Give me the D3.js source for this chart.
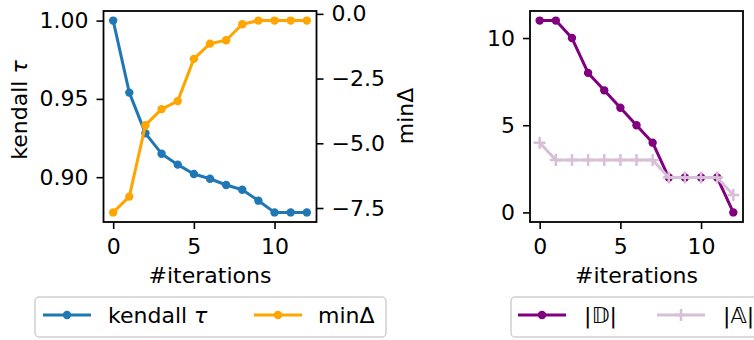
<!DOCTYPE html>
<html>
<head>
<meta charset="utf-8">
<script src="https://cdn.jsdelivr.net/npm/d3@7"></script>
<style>
  body { margin: 0; background: #fff; }
  text { font-family: "DejaVu Sans", sans-serif; fill: #000; }
</style>
</head>
<body>
<svg id="chart" width="754" height="340"></svg>
<script>
// iterations 0..12
const iterations = [0, 1, 2, 3, 4, 5, 6, 7, 8, 9, 10, 11, 12];
// left panel
const kendallTau = [1.000, 0.954, 0.928, 0.915, 0.908, 0.902, 0.899, 0.895, 0.892, 0.885, 0.8775, 0.8775, 0.8775];
const minDelta = [-7.67, -7.06, -4.30, -3.68, -3.37, -1.74, -1.15, -1.02, -0.40, -0.26, -0.26, -0.26, -0.26];
// right panel
const sizeD = [11, 11, 10, 8, 7, 6, 5, 4, 2, 2, 2, 2, 0];
const sizeA = [4, 3, 3, 3, 3, 3, 3, 3, 2, 2, 2, 2, 1];
const xTicks = [0, 5, 10];
const tauTicks = [0.90, 0.95, 1.00];
const deltaTicks = [-7.5, -5.0, -2.5, 0.0];
const countTicks = [0, 5, 10];

const FS = 22;
const svg = d3.select('#chart');

// matplotlib style 5% padding
function padded(vals) {
  const [lo, hi] = d3.extent(vals);
  const m = (hi - lo) * 0.05;
  return [lo - m, hi + m];
}

const plotTop = 11, plotBottom = 222;
const L = { left: 103.5, right: 316.5 };
const R = { left: 530, right: 743 };

const xL = d3.scaleLinear().domain(padded(iterations)).range([L.left, L.right]);
const xR = d3.scaleLinear().domain(padded(iterations)).range([R.left, R.right]);
const yTau = d3.scaleLinear().domain(padded(kendallTau)).range([plotBottom, plotTop]);
const yDelta = d3.scaleLinear().domain(padded(minDelta)).range([plotBottom, plotTop]);
const yCount = d3.scaleLinear().domain(padded(sizeD.concat(sizeA))).range([plotBottom, plotTop]);

function styleAxis(g) {
  g.select('.domain').remove();
  g.selectAll('.tick line').attr('stroke', '#000').attr('stroke-width', 1.6);
  g.selectAll('.tick text').style('font-size', FS + 'px').attr('fill', '#000');
}

const minus = s => s.replace('-', '\u2212');

// left panel axes
svg.append('g').attr('transform', `translate(0,${plotBottom})`)
  .call(d3.axisBottom(xL).tickValues(xTicks).tickSize(7).tickPadding(9).tickFormat(d3.format('d')))
  .call(styleAxis);
svg.append('g').attr('transform', `translate(${L.left},0)`)
  .call(d3.axisLeft(yTau).tickValues(tauTicks).tickSize(7).tickPadding(8).tickFormat(d3.format('.2f')))
  .call(styleAxis);
svg.append('g').attr('transform', `translate(${L.right},0)`)
  .call(d3.axisRight(yDelta).tickValues(deltaTicks).tickSize(7).tickPadding(8).tickFormat(d => minus(d3.format('.1f')(d))))
  .call(styleAxis);

// right panel axes
svg.append('g').attr('transform', `translate(0,${plotBottom})`)
  .call(d3.axisBottom(xR).tickValues(xTicks).tickSize(7).tickPadding(9).tickFormat(d3.format('d')))
  .call(styleAxis);
svg.append('g').attr('transform', `translate(${R.left},0)`)
  .call(d3.axisLeft(yCount).tickValues(countTicks).tickSize(7).tickPadding(8).tickFormat(d3.format('d')))
  .call(styleAxis);

// series drawing
function drawSeries(xs, ys, vals, color, marker) {
  const pts = iterations.map((it, i) => [xs(it), ys(vals[i])]);
  svg.append('path')
    .attr('d', d3.line()(pts))
    .attr('fill', 'none')
    .attr('stroke', color)
    .attr('stroke-width', 3)
    .attr('stroke-linejoin', 'round');
  if (marker === 'o') {
    svg.append('g').selectAll('circle').data(pts).enter().append('circle')
      .attr('cx', d => d[0]).attr('cy', d => d[1]).attr('r', 4.2)
      .attr('fill', color);
  } else {
    svg.append('g').selectAll('path').data(pts).enter().append('path')
      .attr('d', d => `M${d[0] - 6},${d[1]}H${d[0] + 6}M${d[0]},${d[1] - 6}V${d[1] + 6}`)
      .attr('stroke', color).attr('stroke-width', 2.5);
  }
}

drawSeries(xL, yTau, kendallTau, '#1f77b4', 'o');
drawSeries(xL, yDelta, minDelta, 'orange', 'o');
drawSeries(xR, yCount, sizeD, 'purple', 'o');
drawSeries(xR, yCount, sizeA, 'thistle', '+');

// frames
[L, R].forEach(p => {
  svg.append('rect')
    .attr('x', p.left).attr('y', plotTop)
    .attr('width', p.right - p.left).attr('height', plotBottom - plotTop)
    .attr('fill', 'none').attr('stroke', '#000').attr('stroke-width', 1.8);
});

// axis labels
svg.append('text').attr('x', (L.left + L.right) / 2).attr('y', 283)
  .attr('text-anchor', 'middle').style('font-size', FS + 'px').text('#iterations');
svg.append('text').attr('x', (R.left + R.right) / 2).attr('y', 283)
  .attr('text-anchor', 'middle').style('font-size', FS + 'px').text('#iterations');

const yl = svg.append('text')
  .attr('transform', 'translate(27,110) rotate(-90)')
  .attr('text-anchor', 'middle').style('font-size', FS + 'px');
yl.append('tspan').text('kendall ');
yl.append('tspan').style('font-style', 'italic').text('τ');

svg.append('text')
  .attr('transform', 'translate(413,116) rotate(-90)')
  .attr('text-anchor', 'middle').style('font-size', FS + 'px').text('minΔ');

// legends
function legend(x, y, w, items) {
  const g = svg.append('g');
  g.append('rect').attr('x', x).attr('y', y).attr('width', w).attr('height', 40)
    .attr('rx', 4).attr('fill', '#fff').attr('fill-opacity', 0.8)
    .attr('stroke', '#d0d0d0').attr('stroke-width', 1.5);
  items.forEach(it => {
    const cy = y + 18;
    g.append('line').attr('x1', it.x).attr('x2', it.x + 48).attr('y1', cy).attr('y2', cy)
      .attr('stroke', it.color).attr('stroke-width', 3);
    if (it.marker === 'o') {
      g.append('circle').attr('cx', it.x + 24).attr('cy', cy).attr('r', 4.2).attr('fill', it.color);
    } else {
      g.append('path').attr('d', `M${it.x + 18},${cy}H${it.x + 30}M${it.x + 24},${cy - 6}V${cy + 6}`)
        .attr('stroke', it.color).attr('stroke-width', 2.5);
    }
    const t = g.append('text').attr('x', it.x + it.dx).attr('y', cy + 8).style('font-size', FS + 'px');
    it.label.forEach(part => {
      const s = t.append('tspan').text(part.t);
      if (part.i) s.style('font-style', 'italic');
    });
  });
}

legend(35, 297, 351, [
  { x: 43, dx: 65, color: '#1f77b4', marker: 'o', label: [{ t: 'kendall ' }, { t: 'τ', i: true }] },
  { x: 254, dx: 64, color: 'orange', marker: 'o', label: [{ t: 'minΔ' }] }
]);
legend(511, 297, 260, [
  { x: 518, dx: 66, color: 'purple', marker: 'o', label: [{ t: '|𝔻|' }] },
  { x: 657, dx: 66, color: 'thistle', marker: '+', label: [{ t: '|𝔸|' }] }
]);
</script>
</body>
</html>
